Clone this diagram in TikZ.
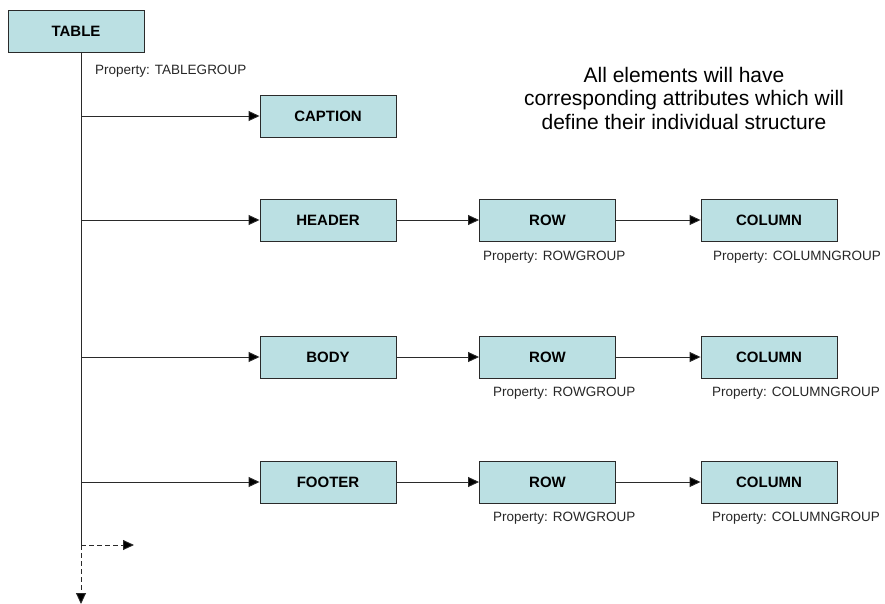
\documentclass[tikz,border=0pt]{standalone}
\usepackage{fontspec}
\setmainfont{Liberation Sans}
\usetikzlibrary{arrows.meta}
\definecolor{boxfill}{HTML}{BBE0E3}
\definecolor{edgecol}{HTML}{2A2A2A}
\tikzset{
  elbox/.style={draw=edgecol, line width=0.9pt, fill=boxfill, minimum width=136pt, minimum height=42pt, inner sep=0pt, font=\bfseries\fontsize{15}{18}\selectfont},
  proplabel/.style={anchor=west, inner sep=0pt, text=black!85, font=\fontsize{13.5}{16}\selectfont},
  conn/.style={draw=edgecol, line width=0.9pt, -{Triangle[length=11pt,width=10pt,fill=black]}},
  plainline/.style={draw=edgecol, line width=0.9pt},
  dashconn/.style={draw=edgecol, line width=0.9pt, dash pattern=on 5pt off 3pt, -{Triangle[length=11pt,width=10pt,fill=black]}}
}
\begin{document}
\begin{tikzpicture}[x=1pt,y=-1pt]
\useasboundingbox (0,0) rectangle (885,604);
% boxes
\node[elbox] (table) at (76,31) {TABLE};
\node[elbox] (caption) at (328,116) {CAPTION};
\node[elbox] (header) at (328,220) {HEADER};
\node[elbox] (row1) at (547.5,220) {ROW};
\node[elbox] (col1) at (769,220) {COLUMN};
\node[elbox] (body) at (328,357) {BODY};
\node[elbox] (row2) at (547.5,357) {ROW};
\node[elbox] (col2) at (769,357) {COLUMN};
\node[elbox] (footer) at (328,482) {FOOTER};
\node[elbox] (row3) at (547.5,482) {ROW};
\node[elbox] (col3) at (769,482) {COLUMN};
% property labels
\node[proplabel] (ptable) at (95,71) {Property: TABLEGROUP};
\node[proplabel] (prow1) at (483,257) {Property: ROWGROUP};
\node[proplabel] (pcol1) at (713,257) {Property: COLUMNGROUP};
\node[proplabel] (prow2) at (493,393) {Property: ROWGROUP};
\node[proplabel] (pcol2) at (712,393) {Property: COLUMNGROUP};
\node[proplabel] (prow3) at (493,518) {Property: ROWGROUP};
\node[proplabel] (pcol3) at (712,518) {Property: COLUMNGROUP};
% note
\node[align=center, inner sep=0pt, font=\fontsize{21}{23.5}\selectfont] (note) at (684,98) {All elements will have\\corresponding attributes which will\\define their individual structure};
% spine
\coordinate (top) at (81,52);
\coordinate (t1) at (81,116);
\coordinate (t2) at (81,220);
\coordinate (t3) at (81,357);
\coordinate (t4) at (81,482);
\coordinate (split) at (81,545);
\coordinate (dashend) at (134,545);
\coordinate (bottom) at (81,604);
\draw[plainline] (top) -- (split);
\draw[dashconn] (split) -- (dashend);
\draw[dashconn] (split) -- (bottom);
\draw[conn] (t1) -- (caption.west);
\draw[conn] (t2) -- (header.west);
\draw[conn] (t3) -- (body.west);
\draw[conn] (t4) -- (footer.west);
\draw[conn] (header) -- (row1);
\draw[conn] (row1) -- (col1);
\draw[conn] (body) -- (row2);
\draw[conn] (row2) -- (col2);
\draw[conn] (footer) -- (row3);
\draw[conn] (row3) -- (col3);
\end{tikzpicture}
\end{document}
